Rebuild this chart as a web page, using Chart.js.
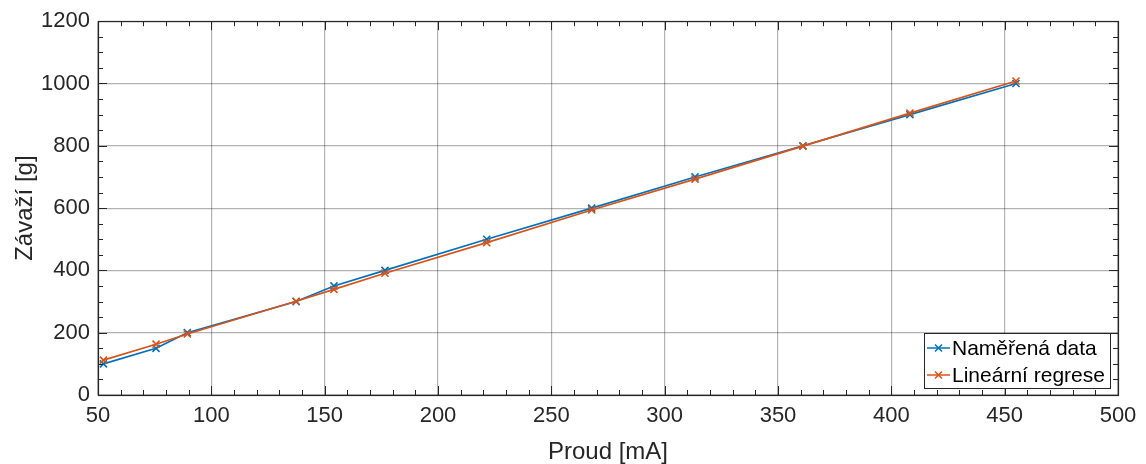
<!DOCTYPE html>
<html>
<head>
<meta charset="utf-8">
<script src="https://cdn.jsdelivr.net/npm/chart.js@4.4.1/dist/chart.umd.min.js"></script>
<style>
html,body{margin:0;padding:0;background:#fff;}
#wrap{width:1146px;height:464px;position:relative;}
</style>
</head>
<body>
<div id="wrap"><canvas id="c" width="1146" height="464"></canvas></div>
<script>
const proud = [52.4, 75.6, 89.4, 137.4, 154.1, 176.6, 221.5, 267.8, 313.4, 361.0, 408.2, 455.0];
const namerena = [100, 150, 200, 300, 350, 400, 500, 600, 700, 800, 900, 1000];
const regrese = [112, 163, 196, 301, 339, 391, 489, 594, 693, 799, 905, 1008];
const seriesNames = ['Naměřená data', 'Lineární regrese'];
const seriesColors = ['#0072BD', '#D95319'];
const xTitle = 'Proud [mA]';
const yTitle = 'Závaží [g]';

const FONT = '"Liberation Sans", Arial, Helvetica, sans-serif';
const TEXT = '#262626';

function pts(xs, ys){ return xs.map((x,i)=>({x:x, y:ys[i]})); }

const boxPlugin = {
  id: 'boxTicks',
  afterDraw(chart){
    const ctx = chart.ctx, a = chart.chartArea;
    const xs = chart.scales.x, ys = chart.scales.y;
    ctx.save();
    ctx.strokeStyle = TEXT;
    ctx.lineWidth = 1;
    for (let v = 50; v <= 500; v += 10) {
      const p = Math.round(xs.getPixelForValue(v)) + 0.5;
      const len = (v % 50 === 0) ? 9 : 5;
      ctx.beginPath();
      ctx.moveTo(p, a.bottom); ctx.lineTo(p, a.bottom - len);
      ctx.moveTo(p, a.top); ctx.lineTo(p, a.top + len);
      ctx.stroke();
    }
    for (let v = 0; v <= 1200; v += 50) {
      const p = Math.round(ys.getPixelForValue(v)) + 0.5;
      const len = (v % 200 === 0) ? 9 : 5;
      ctx.beginPath();
      ctx.moveTo(a.left, p); ctx.lineTo(a.left + len, p);
      ctx.moveTo(a.right, p); ctx.lineTo(a.right - len, p);
      ctx.stroke();
    }
    ctx.lineWidth = 1.2;
    ctx.strokeRect(Math.round(a.left)+0.5, Math.round(a.top)+0.5, Math.round(a.right-a.left), Math.round(a.bottom-a.top));

    // legend (inside, bottom-right)
    const lx = 924, ly = 333, lw = 186, lh = 55;
    ctx.fillStyle = '#fff';
    ctx.fillRect(lx, ly, lw, lh);
    ctx.strokeStyle = TEXT;
    ctx.lineWidth = 1;
    ctx.strokeRect(lx + 0.5, ly + 0.5, lw, lh);
    ctx.font = '21px ' + FONT;
    ctx.textBaseline = 'middle';
    ctx.textAlign = 'left';
    chart.data.datasets.forEach((ds, i) => {
      const cy = ly + 15 + i * 27;
      ctx.strokeStyle = ds.borderColor;
      ctx.lineWidth = 1.5;
      ctx.beginPath(); ctx.moveTo(lx + 3, cy); ctx.lineTo(lx + 26, cy); ctx.stroke();
      const mx = lx + 14.5, r = 3.5;
      ctx.beginPath();
      ctx.moveTo(mx - r, cy - r); ctx.lineTo(mx + r, cy + r);
      ctx.moveTo(mx - r, cy + r); ctx.lineTo(mx + r, cy - r);
      ctx.stroke();
      ctx.fillStyle = '#000';
      ctx.fillText(ds.label, lx + 28, cy + 1);
    });
    ctx.restore();
  }
};

new Chart(document.getElementById('c'), {
  type: 'scatter',
  data: {
    datasets: [
      { label: seriesNames[0], data: pts(proud, namerena), showLine: true, order: 1,
        borderColor: seriesColors[0], backgroundColor: seriesColors[0], borderWidth: 1.7,
        pointStyle: 'crossRot', pointRadius: 5, pointBorderWidth: 1.6, pointHoverRadius: 5, tension: 0 },
      { label: seriesNames[1], data: pts(proud, regrese), showLine: true, order: 0,
        borderColor: seriesColors[1], backgroundColor: seriesColors[1], borderWidth: 1.7,
        pointStyle: 'crossRot', pointRadius: 5, pointBorderWidth: 1.6, pointHoverRadius: 5, tension: 0 }
    ]
  },
  options: {
    responsive: false,
    animation: false,
    layout: { padding: { left: 0, right: 28, top: 20, bottom: 0 } },
    plugins: { legend: { display: false }, tooltip: { enabled: false } },
    scales: {
      x: {
        type: 'linear', min: 50, max: 500,
        afterFit(s){ s.height = 69; },
        ticks: { stepSize: 50, color: TEXT, font: { family: FONT, size: 22 }, padding: 8, maxRotation: 0,
                 callback: v => String(v) },
        grid: { color: 'rgba(0,0,0,0.3)', lineWidth: 1.2, drawTicks: false },
        border: { display: false },
        title: { display: true, text: xTitle, color: TEXT, font: { family: FONT, size: 24 }, padding: { top: 0, bottom: -3 } }
      },
      y: {
        type: 'linear', min: 0, max: 1200,
        afterFit(s){ s.width = 98; },
        ticks: { stepSize: 200, color: TEXT, font: { family: FONT, size: 22 }, padding: 8,
                 callback: v => String(v) },
        grid: { color: 'rgba(0,0,0,0.3)', lineWidth: 1.2, drawTicks: false },
        border: { display: false },
        title: { display: true, text: yTitle, color: TEXT, font: { family: FONT, size: 24 }, padding: { top: 11, bottom: 0 } }
      }
    }
  },
  plugins: [boxPlugin]
});
</script>
</body>
</html>
